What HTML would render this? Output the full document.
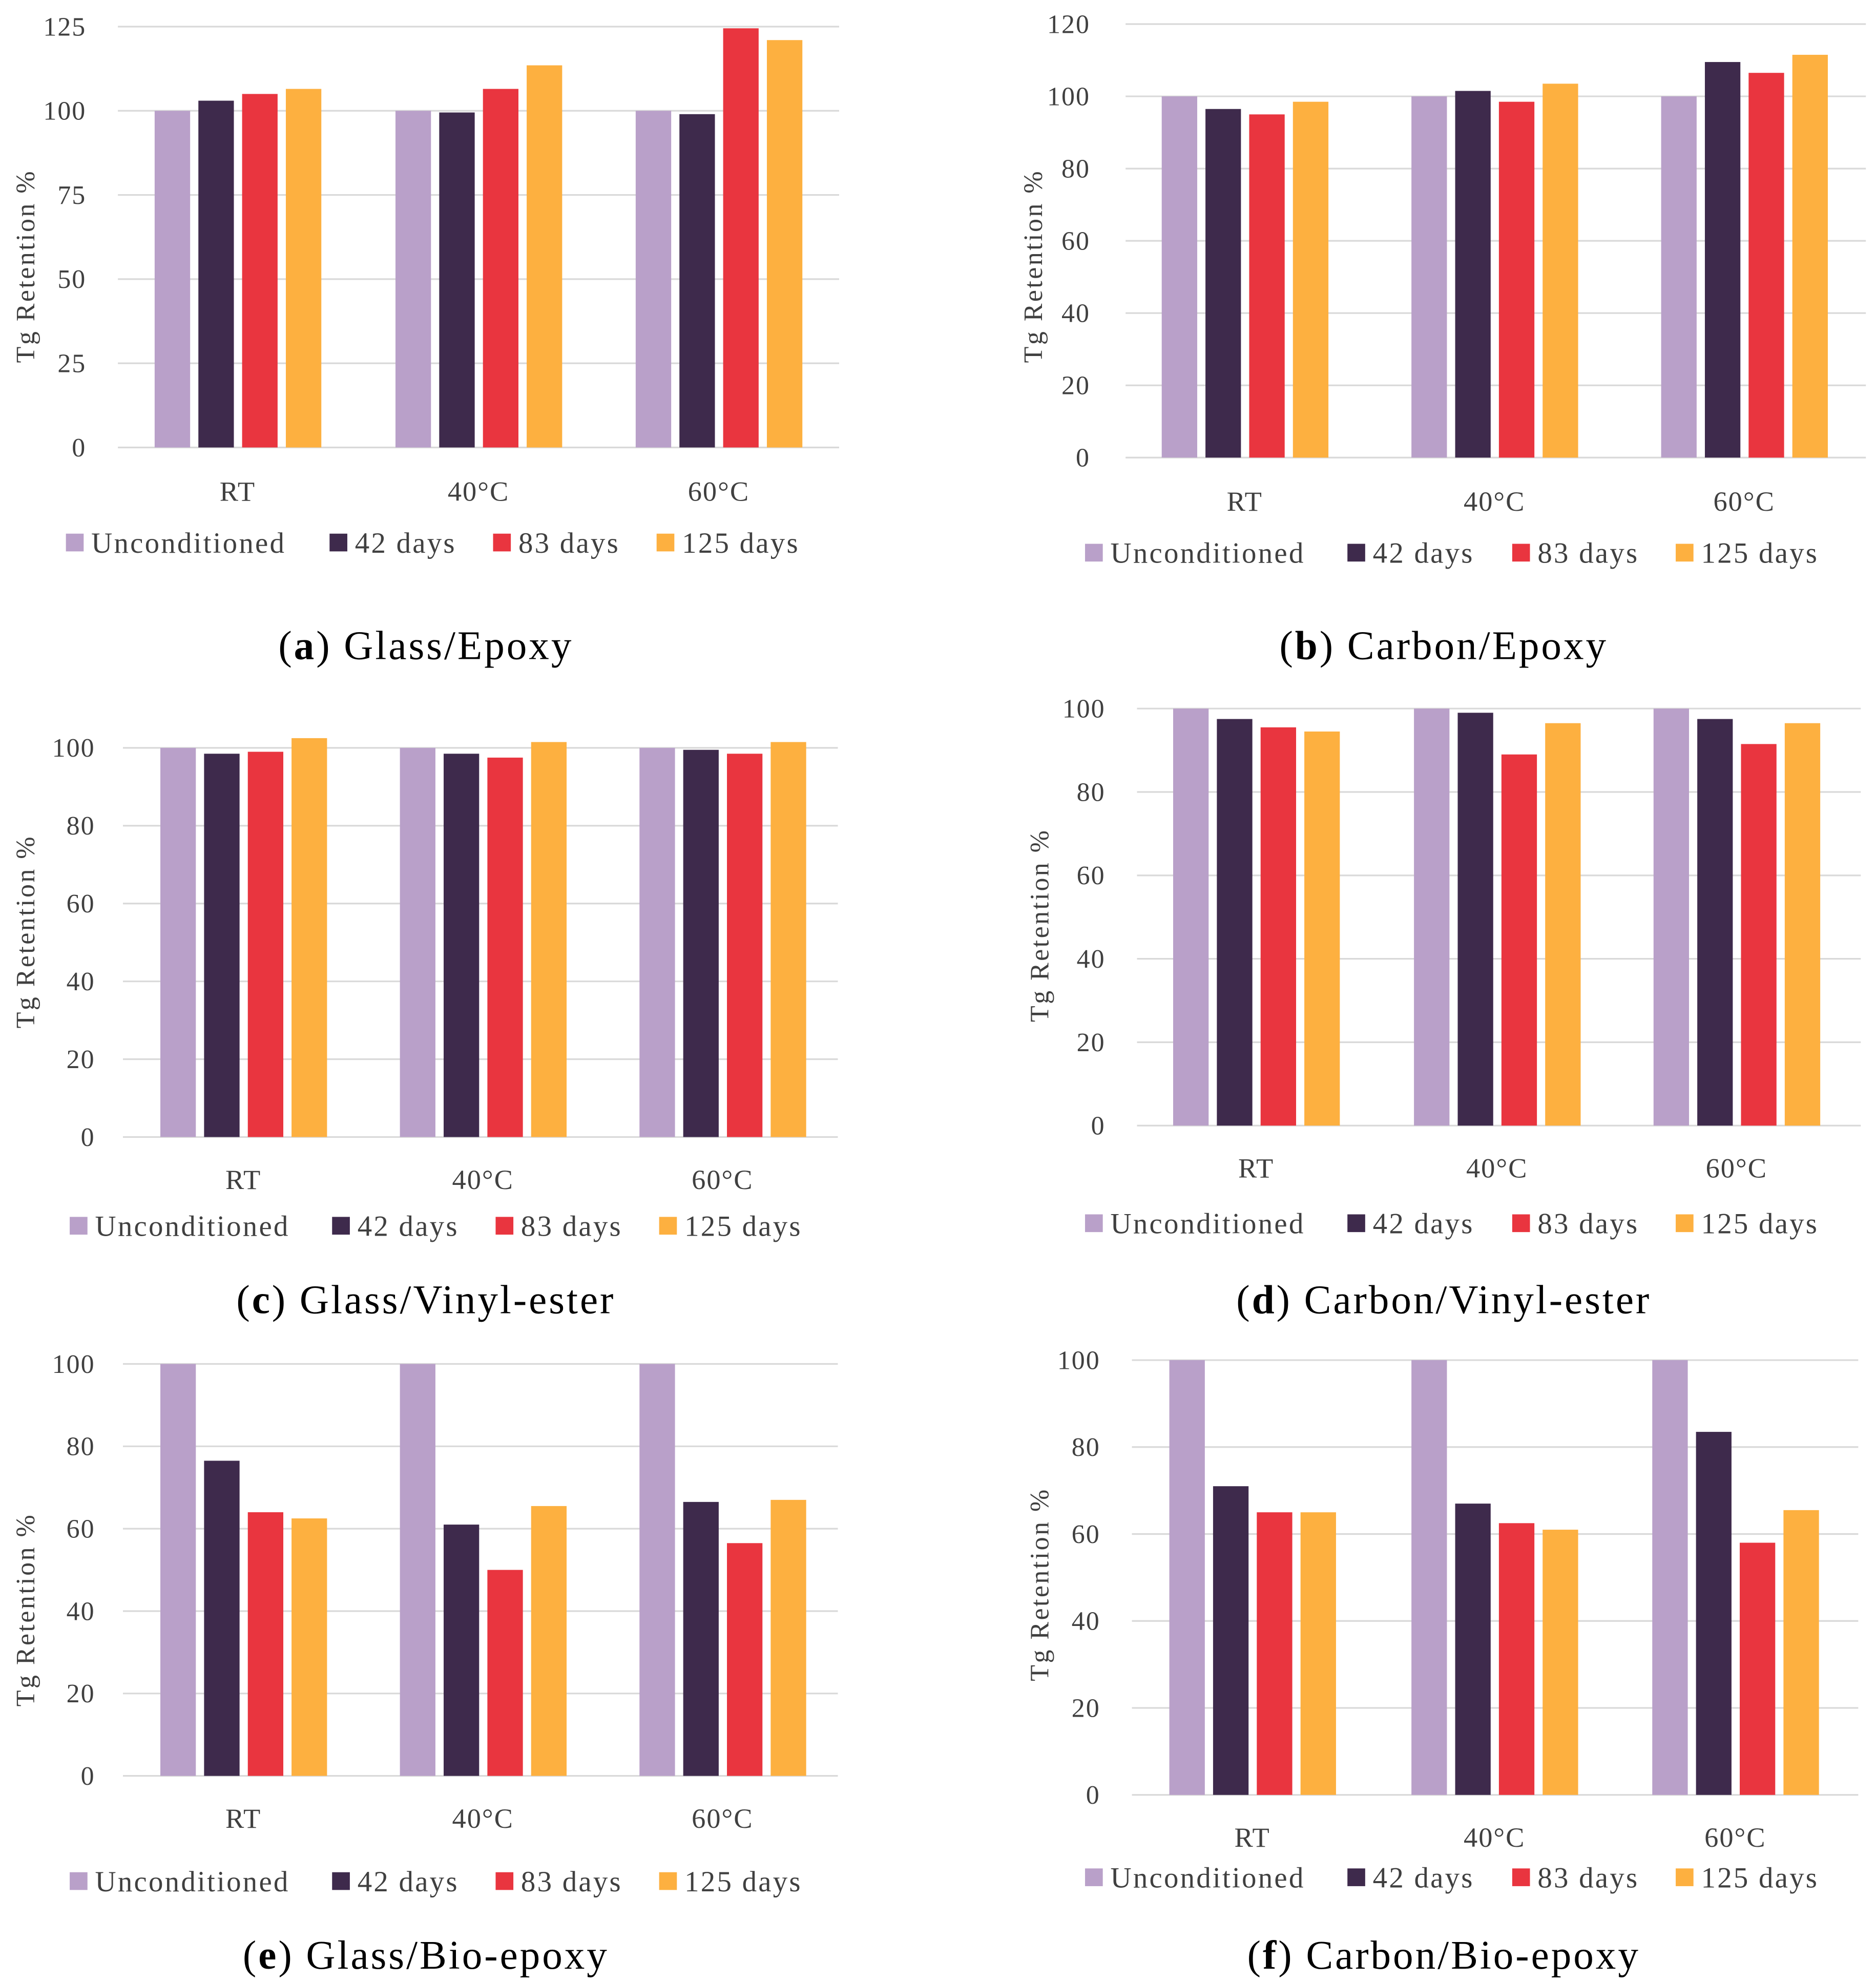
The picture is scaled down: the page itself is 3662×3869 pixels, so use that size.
<!DOCTYPE html>
<html><head><meta charset="utf-8">
<style>
html,body{margin:0;padding:0;background:#fff;}
svg{display:block;}
text{font-family:"Liberation Serif",serif;fill:#404040;}
.cap{fill:#000;}
</style></head>
<body>
<svg id="fig" width="3662" height="3869" viewBox="0 0 1480 1563.6" preserveAspectRatio="none" xmlns="http://www.w3.org/2000/svg"></svg>
<script>
const categories = ["RT", "40°C", "60°C"];
const seriesNames = ["Unconditioned", "42 days", "83 days", "125 days"];
const colors = ["#b9a0c9", "#3e2a4c", "#e9353f", "#fdb040"];

const valuesA = [[100,100,100],[103,99.5,99],[105,106.5,124.5],[106.5,113.5,121]];
const valuesB = [[100,100,100],[96.5,101.5,109.5],[95,98.5,106.5],[98.5,103.5,111.5]];
const valuesC = [[100,100,100],[98.5,98.5,99.5],[99,97.5,98.5],[102.5,101.5,101.5]];
const valuesD = [[100,100,100],[97.5,99,97.5],[95.5,89,91.5],[94.5,96.5,96.5]];
const valuesE = [[100,100,100],[76.5,61,66.5],[64,50,56.5],[62.5,65.5,67]];
const valuesF = [[100,100,100],[71,67,83.5],[65,62.5,58],[65,61,65.5]];

const ticksA = [0,25,50,75,100,125];
const ticks120 = [0,20,40,60,80,100,120];
const ticks100 = [0,20,40,60,80,100];

const NS = "http://www.w3.org/2000/svg";
const svg = document.getElementById("fig");
function mk(tag, attrs, parent){
  const e = document.createElementNS(NS, tag);
  for (const k in attrs) e.setAttribute(k, attrs[k]);
  (parent||svg).appendChild(e);
  return e;
}

const panels = [
 {id:"a", vals:valuesA, ticks:ticksA, ymax:125, y0:353, y1:21, x0:93, x1:662, cx:[187.5,377.5,567], ylx:68, ttx:20, tty:210, caty:388, legy:428, leg:[52,260,389,518], capx:336, capy:510, cap:"Glass/Epoxy"},
 {id:"b", vals:valuesB, ticks:ticks120, ymax:120, y0:361, y1:19, x0:888, x1:1472, cx:[982,1179,1376], ylx:860, ttx:815, tty:210, caty:396, legy:436, leg:[856,1063,1193,1322], capx:1139, capy:510, cap:"Carbon/Epoxy"},
 {id:"c", vals:valuesC, ticks:ticks100, ymax:100, y0:897, y1:590, x0:97, x1:661, cx:[192,381,570], ylx:75, ttx:20, tty:735, caty:931, legy:967, leg:[55,262,391,520], capx:336, capy:1026, cap:"Glass/Vinyl-ester"},
 {id:"d", vals:valuesD, ticks:ticks100, ymax:100, y0:888, y1:559, x0:897, x1:1468, cx:[991,1181,1370], ylx:872, ttx:820, tty:730, caty:922, legy:965, leg:[856,1063,1193,1322], capx:1139, capy:1026, cap:"Carbon/Vinyl-ester"},
 {id:"e", vals:valuesE, ticks:ticks100, ymax:100, y0:1401, y1:1076, x0:97, x1:661, cx:[192,381,570], ylx:75, ttx:20, tty:1270, caty:1435, legy:1484, leg:[55,262,391,520], capx:336, capy:1543, cap:"Glass/Bio-epoxy"},
 {id:"f", vals:valuesF, ticks:ticks100, ymax:100, y0:1416, y1:1073, x0:893, x1:1466, cx:[988,1179,1369], ylx:868, ttx:820, tty:1250, caty:1450, legy:1481, leg:[856,1063,1193,1322], capx:1139, capy:1543, cap:"Carbon/Bio-epoxy"}
];

panels.forEach(p => {
  const g = mk("g", {});
  
  
  const y = v => p.y0 - (v / p.ymax) * (p.y0 - p.y1);
  p.ticks.forEach(t => {
    const ln = mk("line", {x1:p.x0, x2:p.x1, y1:y(t), y2:y(t), stroke:"#d9d9d9", "stroke-width":1.3}, g);
    
    
    const tx = mk("text", {x:p.ylx, y:y(t)+7, "text-anchor":"end", "font-size":21, "letter-spacing":0.8}, g);
    tx.textContent = t;
    
    
  });
  const yt = mk("text", {x:0, y:0, "text-anchor":"middle", "font-size":21, "letter-spacing":1.4, transform:`translate(${p.ttx+7},${p.tty}) rotate(-90)`}, g);
  yt.textContent = "Tg Retention %";
  
  
  categories.forEach((c, ci) => {
    p.vals.forEach((ser, si) => {
      const v = ser[ci];
      const bx = p.cx[ci] - 65.5 + si * 34.5;
      const r = mk("rect", {x:bx, y:y(v), width:28, height:p.y0 - y(v), fill:colors[si]}, g);
      
      
    });
    const ct = mk("text", {x:p.cx[ci], y:p.caty+7, "text-anchor":"middle", "font-size":22, "letter-spacing":0.8}, g);
    ct.textContent = c;
    
    
  });
  seriesNames.forEach((s, si) => {
    const sq = mk("rect", {x:p.leg[si], y:p.legy-7, width:14, height:14, fill:colors[si]}, g);
    
    
    const lt = mk("text", {x:p.leg[si]+20, y:p.legy+8, "font-size":23, "letter-spacing":1.3}, g);
    lt.textContent = s;
    
    
  });
  const cap = mk("text", {x:p.capx, y:p.capy+10, "text-anchor":"middle", "font-size":32, "letter-spacing":1.6, class:"cap"}, g);
  cap.innerHTML = '(<tspan font-weight="bold" class="cap">' + p.id + '</tspan>) ' + p.cap;
  
  
});
</script>
</body></html>
